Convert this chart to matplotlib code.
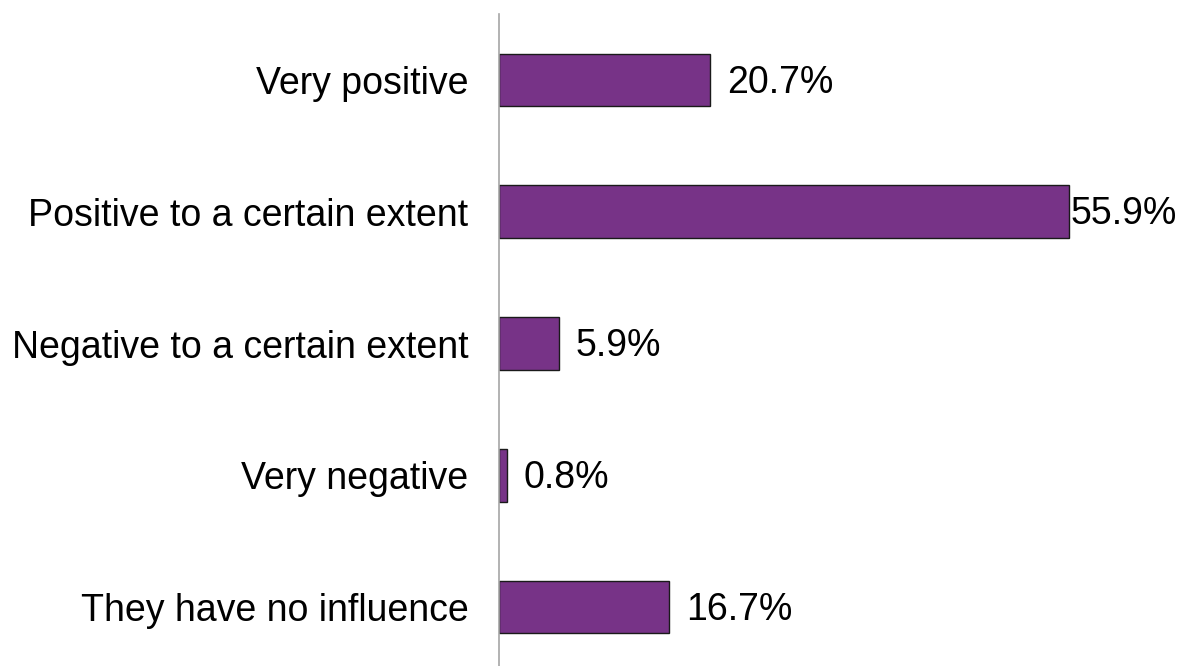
import matplotlib
matplotlib.use("Agg")
import matplotlib.pyplot as plt

categories = ["Very positive", "Positive to a certain extent", "Negative to a certain extent",
              "Very negative", "They have no influence"]
values = [20.7, 55.9, 5.9, 0.8, 16.7]
value_labels = ["20.7%", "55.9%", "5.9%", "0.8%", "16.7%"]

plt.rcParams['font.family'] = ['Liberation Sans', 'DejaVu Sans']

fig = plt.figure(figsize=(11.79, 6.66), dpi=100)
ax = fig.add_axes([499/1179, 1 - 673/666, 1 - 499/1179, (673 - 14)/666])

y = list(range(len(categories)))
ax.barh(y, values, height=0.4, color="#773387", edgecolor="#1a1a1a", linewidth=1.0)
ax.set_ylim(len(categories) - 0.5, -0.5)
ax.set_xlim(0, (1179 - 499) / 10.2)

for yi, v, lab in zip(y, values, value_labels):
    off = 1 if v == max(values) else 12
    ax.annotate(lab, (v, yi), xytext=(off, -2), textcoords="offset points",
                va="center", ha="left", fontsize=27, color="black")

ax.set_yticks(y)
ax.set_yticklabels(categories, fontsize=27)
ax.tick_params(axis="y", length=0, pad=22)
ax.set_xticks([])
for s in ["top", "right", "bottom"]:
    ax.spines[s].set_visible(False)
ax.spines["left"].set_color("#a6a6a6")
ax.spines["left"].set_linewidth(1.2)

fig.savefig("out.png", dpi=100)
